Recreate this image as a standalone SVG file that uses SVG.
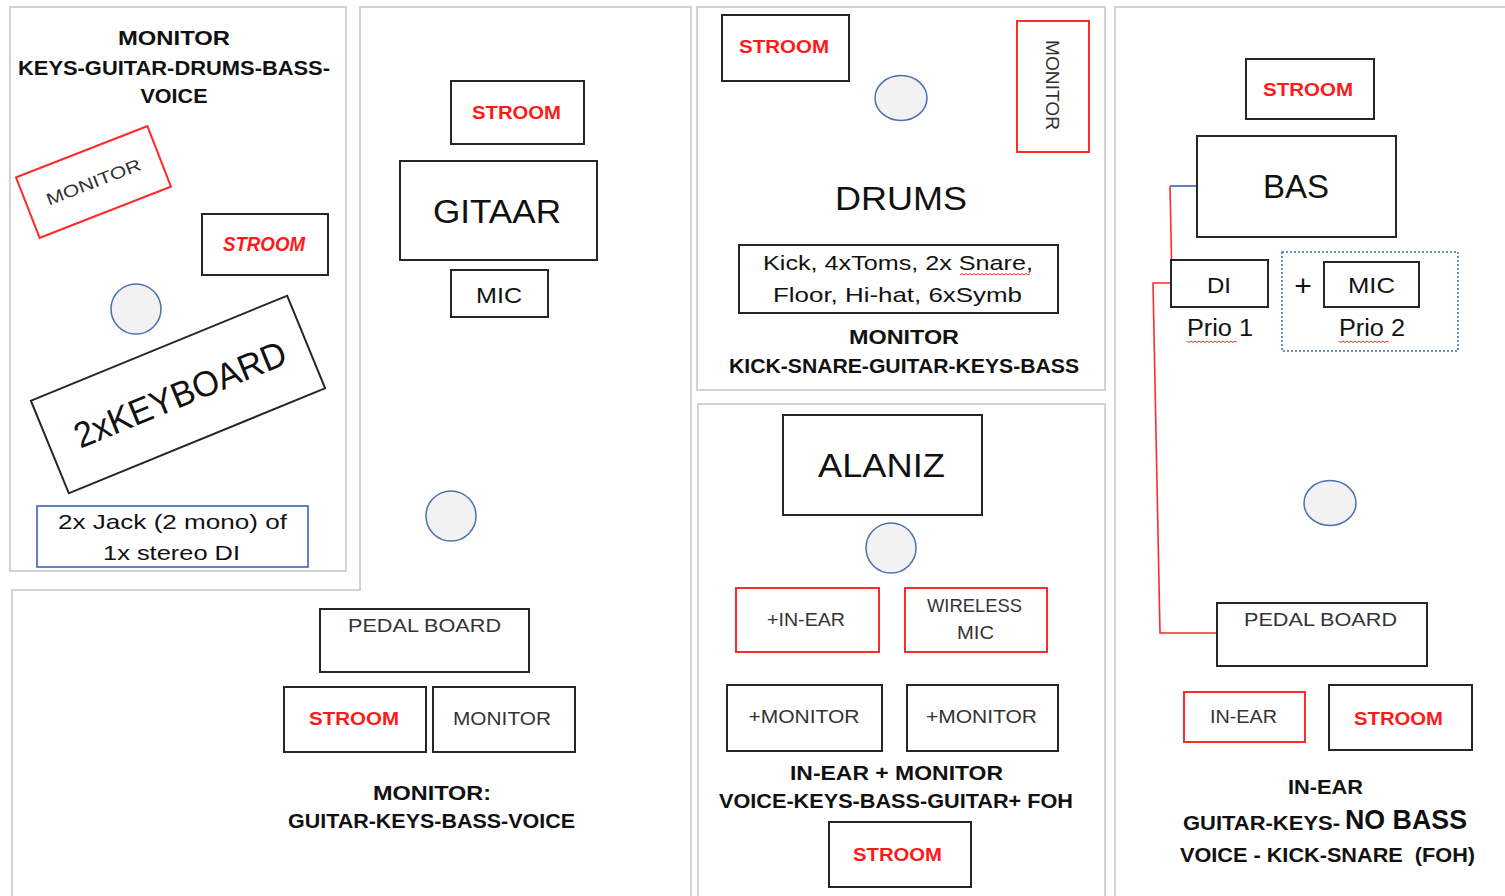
<svg xmlns="http://www.w3.org/2000/svg" width="1505" height="896" viewBox="0 0 1505 896">
<style>
text{font-family:"Liberation Sans",Arial,sans-serif;text-anchor:middle}
.panel{fill:#fff;stroke:#d2d2d2;stroke-width:2}
.box{fill:#fff;stroke:#262626;stroke-width:2}
.rbox{fill:#fff;stroke:#ff2a2a;stroke-width:2}
.bbox{fill:#fff;stroke:#3b62b8;stroke-width:1.6}
.dbox{fill:none;stroke:#3b62b8;stroke-width:1.4;stroke-dasharray:2 2}
.spot{fill:#f2f2f2;stroke:#4a70b2;stroke-width:1.5}
.hd{font-weight:bold;fill:#111;font-size:20px}
.st{font-weight:bold;fill:#ff1a1a;font-size:19px}
.lb{fill:#333;font-size:18.5px}
.big{fill:#111;font-size:34px}
.md{fill:#111;font-size:22px}
.wave{fill:none;stroke:#ff2a2a;stroke-width:1}
</style>
<rect width="1505" height="896" fill="#fff"/>
<g id="panels">
<rect class="panel" x="10" y="7" width="336" height="564"/>
<path class="panel" d="M360,7 H691 V905 H12 V590 H360 Z"/>
<rect class="panel" x="697" y="7" width="408" height="383"/>
<rect class="panel" x="698" y="404" width="407" height="500"/>
<rect class="panel" x="1115" y="7" width="400" height="900"/>
</g>
<g id="connectors">
<path d="M1170,186 H1197" fill="none" stroke="#3b62b8" stroke-width="1.6"/>
<path d="M1170,186 L1172,283 L1153,283 L1160,633 L1217,633" fill="none" stroke="#ff2a2a" stroke-width="1.6"/>
</g>
<g id="keys-title">
<text class="hd" x="174" y="45" style="font-size:21px" textLength="112" lengthAdjust="spacingAndGlyphs">MONITOR</text>
<text class="hd" x="174" y="75" style="font-size:21px" textLength="312" lengthAdjust="spacingAndGlyphs">KEYS-GUITAR-DRUMS-BASS-</text>
<text class="hd" x="174" y="103" style="font-size:21px" textLength="67" lengthAdjust="spacingAndGlyphs">VOICE</text>
</g>
<g id="keys-monitor" transform="translate(93.5,182) rotate(-21.3)">
<rect class="rbox" x="-70.5" y="-32.5" width="141" height="65"/>
<text class="lb" x="0" y="6" style="font-size:17px" textLength="100" lengthAdjust="spacingAndGlyphs">MONITOR</text>
</g>
<g id="keys-stroom">
<rect class="box" x="202" y="214" width="126" height="61"/>
<text class="st" x="264" y="251" style="font-style:italic;font-size:19.5px" textLength="82" lengthAdjust="spacingAndGlyphs">STROOM</text>
</g>
<g id="keys-spot"><circle class="spot" cx="136" cy="309" r="25"/></g>
<g id="keyboard" transform="translate(178,394.5) rotate(-22.3)">
<rect class="box" x="-138.5" y="-50" width="277" height="100"/>
<text x="2" y="13" fill="#111" style="font-size:36px" textLength="226" lengthAdjust="spacingAndGlyphs">2xKEYBOARD</text>
</g>
<g id="keys-di">
<rect class="bbox" x="37" y="506" width="271" height="61"/>
<text class="md" x="172.5" y="529" style="font-size:21px" textLength="229" lengthAdjust="spacingAndGlyphs">2x Jack (2 mono) of</text>
<text class="md" x="171.5" y="560" style="font-size:21px" textLength="137" lengthAdjust="spacingAndGlyphs">1x stereo DI</text>
</g>
<g id="guitar-stroom">
<rect class="box" x="451" y="81" width="133" height="63"/>
<text class="st" x="516.5" y="119" style="font-size:18px" textLength="89" lengthAdjust="spacingAndGlyphs">STROOM</text>
</g>
<g id="gitaar">
<rect class="box" x="400" y="161" width="197" height="99"/>
<text class="big" x="497" y="223" textLength="128" lengthAdjust="spacingAndGlyphs">GITAAR</text>
</g>
<g id="guitar-mic">
<rect class="box" x="451" y="270" width="97" height="47"/>
<text class="md" x="499" y="303" textLength="46" lengthAdjust="spacingAndGlyphs">MIC</text>
</g>
<g id="guitar-spot"><circle class="spot" cx="451" cy="516" r="25"/></g>
<g id="guitar-pedal">
<rect class="box" x="320" y="609" width="209" height="63"/>
<text class="lb" x="424.5" y="632" style="font-size:19px" textLength="153" lengthAdjust="spacingAndGlyphs">PEDAL BOARD</text>
</g>
<g id="guitar-stroom2">
<rect class="box" x="284" y="687" width="142" height="65"/>
<text class="st" x="354" y="725" style="font-size:18.5px" textLength="90" lengthAdjust="spacingAndGlyphs">STROOM</text>
</g>
<g id="guitar-monitor">
<rect class="box" x="433" y="687" width="142" height="65"/>
<text class="lb" x="502" y="725" textLength="98" lengthAdjust="spacingAndGlyphs">MONITOR</text>
</g>
<g id="guitar-title">
<text class="hd" x="432" y="800" textLength="118" lengthAdjust="spacingAndGlyphs">MONITOR:</text>
<text class="hd" x="431.5" y="828" textLength="287" lengthAdjust="spacingAndGlyphs">GUITAR-KEYS-BASS-VOICE</text>
</g>
<g id="drums-stroom">
<rect class="box" x="722" y="15" width="127" height="66"/>
<text class="st" x="784" y="53" textLength="90" lengthAdjust="spacingAndGlyphs">STROOM</text>
</g>
<g id="drums-spot"><ellipse class="spot" cx="901" cy="98" rx="26" ry="22.5"/></g>
<g id="drums-monitor">
<rect class="rbox" x="1017" y="21" width="72" height="131"/>
<text class="lb" transform="translate(1052,85) rotate(90)" x="0" y="6.5" style="font-size:18px" textLength="90" lengthAdjust="spacingAndGlyphs">MONITOR</text>
</g>
<g id="drums">
<text class="big" x="901" y="210" style="font-size:33px" textLength="132" lengthAdjust="spacingAndGlyphs">DRUMS</text>
</g>
<g id="drums-kit">
<rect class="box" x="739" y="245" width="319" height="68"/>
<text class="md" x="898" y="270" style="font-size:21px" textLength="270" lengthAdjust="spacingAndGlyphs">Kick, 4xToms, 2x Snare,</text>
<text class="md" x="897.5" y="302" style="font-size:21px" textLength="249" lengthAdjust="spacingAndGlyphs">Floor, Hi-hat, 6xSymb</text>
<path class="wave" d="M960,275 l2,-1.5 l2,1.5 l2,-1.5 l2,1.5 l2,-1.5 l2,1.5 l2,-1.5 l2,1.5 l2,-1.5 l2,1.5 l2,-1.5 l2,1.5 l2,-1.5 l2,1.5 l2,-1.5 l2,1.5 l2,-1.5 l2,1.5 l2,-1.5 l2,1.5 l2,-1.5 l2,1.5 l2,-1.5 l2,1.5 l2,-1.5 l2,1.5 l2,-1.5 l2,1.5 l2,-1.5 l2,1.5 l2,-1.5 l2,1.5 l2,-1.5 l2,1.5 l2,-1.5"/>
</g>
<g id="drums-title">
<text class="hd" x="904" y="344" textLength="110" lengthAdjust="spacingAndGlyphs">MONITOR</text>
<text class="hd" x="904" y="373" textLength="350" lengthAdjust="spacingAndGlyphs">KICK-SNARE-GUITAR-KEYS-BASS</text>
</g>
<g id="alaniz">
<rect class="box" x="783" y="415" width="199" height="100"/>
<text class="big" x="881.5" y="477" textLength="127" lengthAdjust="spacingAndGlyphs">ALANIZ</text>
</g>
<g id="alaniz-spot"><circle class="spot" cx="891" cy="548" r="25"/></g>
<g id="alaniz-inear">
<rect class="rbox" x="736" y="588" width="143" height="64"/>
<text class="lb" x="806" y="626" style="font-size:18px" textLength="78" lengthAdjust="spacingAndGlyphs">+IN-EAR</text>
</g>
<g id="alaniz-wireless">
<rect class="rbox" x="905" y="588" width="142" height="64"/>
<text class="lb" x="974.5" y="612" style="font-size:18px" textLength="95" lengthAdjust="spacingAndGlyphs">WIRELESS</text>
<text class="lb" x="975.5" y="639" style="font-size:18px" textLength="37" lengthAdjust="spacingAndGlyphs">MIC</text>
</g>
<g id="alaniz-monitor1">
<rect class="box" x="727" y="685" width="155" height="66"/>
<text class="lb" x="804" y="723" textLength="111" lengthAdjust="spacingAndGlyphs">+MONITOR</text>
</g>
<g id="alaniz-monitor2">
<rect class="box" x="907" y="685" width="151" height="66"/>
<text class="lb" x="981.5" y="723" textLength="111" lengthAdjust="spacingAndGlyphs">+MONITOR</text>
</g>
<g id="alaniz-title">
<text class="hd" x="896.5" y="780" style="font-size:21px" textLength="213" lengthAdjust="spacingAndGlyphs">IN-EAR + MONITOR</text>
<text class="hd" x="896" y="808" style="font-size:21px" textLength="354" lengthAdjust="spacingAndGlyphs">VOICE-KEYS-BASS-GUITAR+ FOH</text>
</g>
<g id="alaniz-stroom">
<rect class="box" x="829" y="822" width="142" height="65"/>
<text class="st" x="897.5" y="861" textLength="89" lengthAdjust="spacingAndGlyphs">STROOM</text>
</g>
<g id="bass-stroom">
<rect class="box" x="1246" y="59" width="128" height="60"/>
<text class="st" x="1308" y="96" textLength="90" lengthAdjust="spacingAndGlyphs">STROOM</text>
</g>
<g id="bas">
<rect class="box" x="1197" y="136" width="199" height="101"/>
<text class="big" x="1296" y="198" textLength="66" lengthAdjust="spacingAndGlyphs">BAS</text>
</g>
<g id="bass-di">
<rect class="box" x="1171" y="260" width="97" height="47"/>
<text class="md" x="1219" y="293" textLength="24" lengthAdjust="spacingAndGlyphs">DI</text>
<text class="md" x="1220" y="336" style="font-size:23px" textLength="66" lengthAdjust="spacingAndGlyphs">Prio 1</text>
<path class="wave" d="M1187,341 l2,1.5 l2,-1.5 l2,1.5 l2,-1.5 l2,1.5 l2,-1.5 l2,1.5 l2,-1.5 l2,1.5 l2,-1.5 l2,1.5 l2,-1.5 l2,1.5 l2,-1.5 l2,1.5 l2,-1.5 l2,1.5 l2,-1.5 l2,1.5 l2,-1.5 l2,1.5 l2,-1.5 l2,1.5 l2,-1.5 l2,1.5"/>
</g>
<g id="bass-plus">
<text x="1303" y="296" fill="#111" style="font-size:30px">+</text>
</g>
<g id="bass-mic">
<rect class="dbox" x="1282" y="252" width="176" height="99"/>
<rect class="box" x="1324" y="262" width="95" height="45"/>
<text class="md" x="1371.5" y="293" textLength="47" lengthAdjust="spacingAndGlyphs">MIC</text>
<text class="md" x="1372" y="336" style="font-size:23px" textLength="66" lengthAdjust="spacingAndGlyphs">Prio 2</text>
<path class="wave" d="M1339,341 l2,1.5 l2,-1.5 l2,1.5 l2,-1.5 l2,1.5 l2,-1.5 l2,1.5 l2,-1.5 l2,1.5 l2,-1.5 l2,1.5 l2,-1.5 l2,1.5 l2,-1.5 l2,1.5 l2,-1.5 l2,1.5 l2,-1.5 l2,1.5 l2,-1.5 l2,1.5 l2,-1.5 l2,1.5 l2,-1.5 l2,1.5"/>
</g>
<g id="bass-spot"><ellipse class="spot" cx="1330" cy="503" rx="26" ry="22.5"/></g>
<g id="bass-pedal">
<rect class="box" x="1217" y="603" width="210" height="63"/>
<text class="lb" x="1320.5" y="626" style="font-size:19px" textLength="153" lengthAdjust="spacingAndGlyphs">PEDAL BOARD</text>
</g>
<g id="bass-inear">
<rect class="rbox" x="1184" y="692" width="121" height="50"/>
<text class="lb" x="1243.5" y="723" style="font-size:18px" textLength="67" lengthAdjust="spacingAndGlyphs">IN-EAR</text>
</g>
<g id="bass-stroom2">
<rect class="box" x="1329" y="685" width="143" height="65"/>
<text class="st" x="1398.5" y="725" textLength="89" lengthAdjust="spacingAndGlyphs">STROOM</text>
</g>
<g id="bass-title">
<text class="hd" x="1325.5" y="794" textLength="75" lengthAdjust="spacingAndGlyphs">IN-EAR</text>
<text class="hd" x="1183" y="830" style="text-anchor:start" textLength="157" lengthAdjust="spacingAndGlyphs">GUITAR-KEYS-</text>
<text class="hd" x="1345" y="829" style="text-anchor:start;font-size:27px" textLength="122" lengthAdjust="spacingAndGlyphs">NO BASS</text>
<text class="hd" x="1327.5" y="862" xml:space="preserve" textLength="295" lengthAdjust="spacingAndGlyphs">VOICE - KICK-SNARE  (FOH)</text>
</g>
</svg>
